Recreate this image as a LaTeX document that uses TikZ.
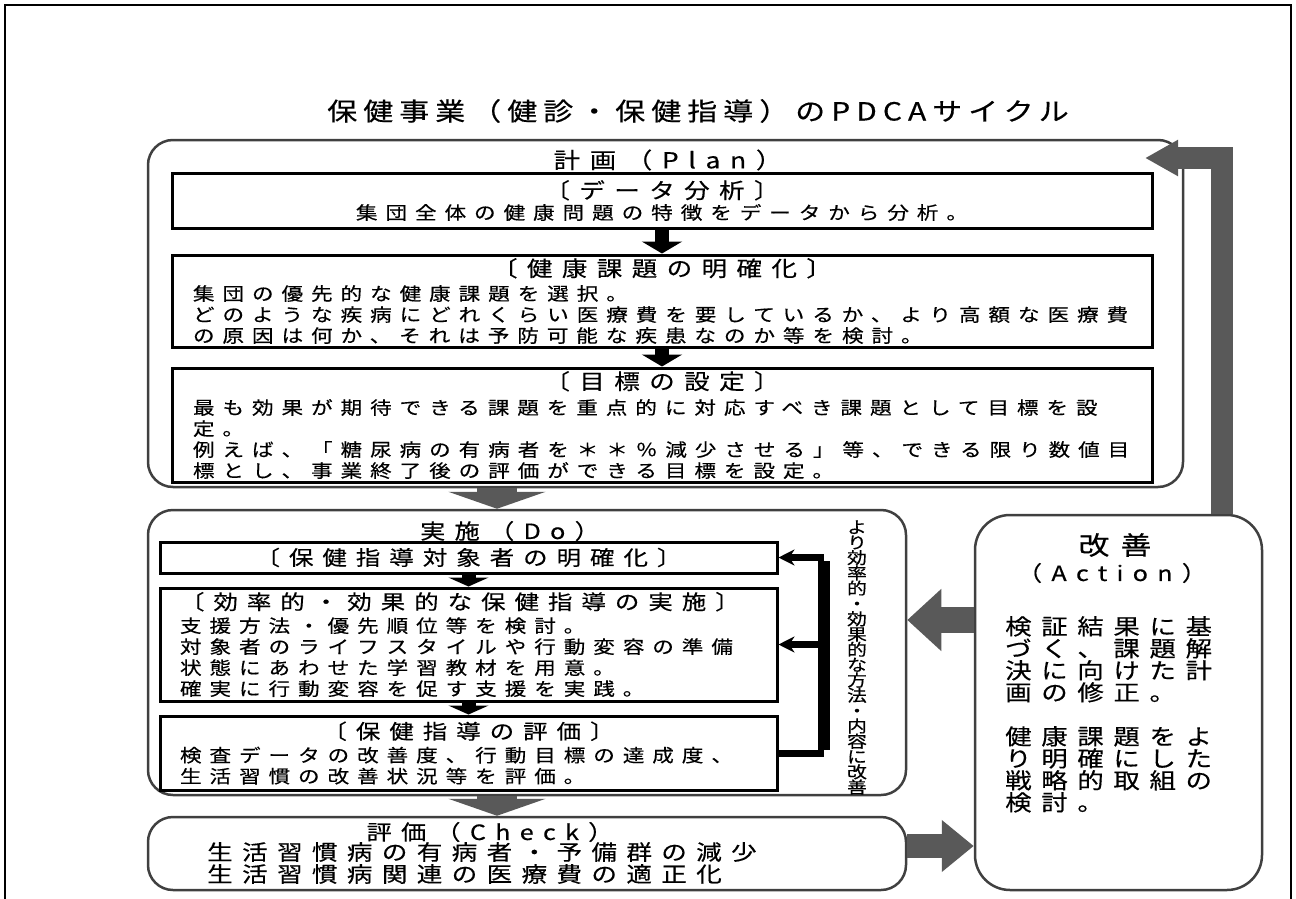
\documentclass[tikz,border=0pt]{standalone}
\usepackage{fontspec}
\setmainfont{Noto Sans CJK JP}[FakeStretch=1.2,LetterSpace=44,FakeBold=0.4]
\newfontfamily\pdcafont{Noto Sans CJK JP}[FakeStretch=1.2,LetterSpace=24,FakeBold=0.4]
\newfontfamily\tatefont{Noto Sans CJK JP}[FakeStretch=1.2,FakeBold=0.4]
\usetikzlibrary{arrows.meta}

\newcommand{\bodysz}{\fontsize{18}{21}\selectfont}
\newcommand{\ttlsz}{\fontsize{21.3}{21}\selectfont}
\newcommand{\subsz}{\fontsize{20.4}{21}\selectfont}

\begin{document}
\begin{tikzpicture}[
		x=1pt, y=-1pt,
		phase/.style ={
			rectangle,	rounded corners=25pt,	draw=black!75,
			line width=2.5pt,	inner sep=0pt
		},
		stepbox/.style ={
			rectangle,	draw=black,	line width=3pt,
			inner xsep=21pt,	inner ysep=0pt,	align=left,	font=\bodysz
		},
		heading/.style ={
			inner sep=0pt,	font=\fontsize{22}{24}\selectfont
		},
		down/.style ={
			draw=black,	line width=14pt,	-{Triangle[width=40pt,length=12pt]}
		},
		bigarrow/.style ={
			draw=black!65,	line width=40pt,	-{Triangle[width=97pt,length=17pt]}
		},
		sidearrow/.style ={
			draw=black!65,	line width=26pt,	-{Triangle[width=60pt,length=34pt]}
		},
		feedback/.style ={
			draw=black,	line width=7pt
		},
	]

	\useasboundingbox (0,0) rectangle (1296,899);
	\draw [line width=1.5pt] (5,899) -- (5,5) -- (1291,5) -- (1291,899);

	% nodes
	\node (title) at (698,111) [inner sep=0pt, font=\pdcafont\fontsize{25}{28}\selectfont]
		{保健事業（健診・保健指導）のPDCAサイクル};

	\node (plan) at (665.5,313.5) [phase, minimum width=1035pt, minimum height=347pt] {};
	\node (planttl) at (668,160) [heading] {計画（Plan）};
	\node (data) at (662,200.5) [stepbox, align=center, text width=938pt, minimum height=55pt]
		{{\ttlsz〔データ分析〕}\\集団全体の健康問題の特徴をデータから分析。};
	\node (issue) at (662,301) [stepbox, text width=938pt, minimum height=92pt]
		{{\ttlsz\hfill〔健康課題の明確化〕\hfill\null}\\[3pt]
		集団の優先的な健康課題を選択。\\
		どのような疾病にどれくらい医療費を要しているか、より高額な医療費\\
		の原因は何か、それは予防可能な疾患なのか等を検討。};
	\node (goal) at (662,425) [stepbox, text width=938pt, minimum height=114pt]
		{{\ttlsz\hfill〔目標の設定〕\hfill\null}\\[4pt]
		最も効果が期待できる課題を重点的に対応すべき課題として目標を設\\
		定。\\
		例えば、「糖尿病の有病者を＊＊％減少させる」等、できる限り数値目\\
		標とし、事業終了後の評価ができる目標を設定。};

	\node (do) at (527,652.5) [phase, minimum width=758pt, minimum height=285pt] {};
	\node (dottl) at (510,531) [heading, font=\fontsize{21}{24}\selectfont] {実施（Do）};
	\node (target) at (468.5,557.5) [stepbox, align=center, inner xsep=20pt, text width=577pt, minimum height=31pt]
		{{\subsz〔保健指導対象者の明確化〕}};
	\node (support) at (468.5,644.5) [stepbox, inner xsep=20pt, text width=577pt, minimum height=113pt]
		{{\subsz〔効率的・効果的な保健指導の実施〕}\\[2pt]
		支援方法・優先順位等を検討。\\
		対象者のライフスタイルや行動変容の準備\\
		状態にあわせた学習教材を用意。\\
		確実に行動変容を促す支援を実践。};
	\node (review) at (468.5,753) [stepbox, inner xsep=20pt, text width=577pt, minimum height=74pt]
		{{\subsz\hfill〔保健指導の評価〕\hfill\null}\\[2pt]
		検査データの改善度、行動目標の達成度、\\
		生活習慣の改善状況等を評価。};
	\node (kaizen) at (857,657.5) [inner sep=0pt, align=center, font=\tatefont\fontsize{16.5}{15.3}\selectfont]
		{よ\\り\\効\\率\\的\\・\\効\\果\\的\\な\\方\\法\\・\\内\\容\\に\\改\\善};

	\node (check) at (527,853.5) [phase, minimum width=758pt, minimum height=73pt] {};
	\node (checkttl) at (490,832) [heading, font=\fontsize{21}{24}\selectfont] {評価（Check）};
	\node (checktxt) at (207,863) [anchor=west, inner sep=0pt, align=left, font=\fontsize{21.3}{22}\selectfont]
		{生活習慣病の有病者・予備群の減少\\生活習慣病関連の医療費の適正化};

	\node (act) at (1118.5,702.5) [phase, rounded corners=35pt, minimum width=287pt, minimum height=375pt] {};
	\node (actttl) at (1115,545) [heading, font=\fontsize{25.6}{26}\selectfont] {改善};
	\node (actsub) at (1112,573) [heading, font=\fontsize{21}{24}\selectfont] {（Action）};
	\node (acttxt) at (1005,616) [anchor=north west, inner sep=0pt, align=left, font=\fontsize{22}{22}\selectfont]
		{検証結果に基\\づく、課題解\\決に向けた計\\画の修正。\\[22pt]
		健康課題をよ\\り明確にした\\戦略的取組の\\検討。};

	\coordinate (dcol) at (497,0);
	\coordinate (bar)  at (824,0);
	\coordinate (arow) at (0,620);
	\coordinate (crow) at (0,846);
	\coordinate (vcol) at (1222,0);
	\coordinate (ret)  at (1145,158);

	% interconnections
	\draw [down] (data) -- (issue);
	\draw [down] (issue) -- (goal);
	\draw [down, -{Triangle[width=40pt,length=9pt]}] (target) -- (support);
	\draw [down, -{Triangle[width=40pt,length=9pt]}] (support) -- (review);

	\draw [feedback] (review.east) -- (review.east -| bar);
	\draw [line width=12pt] ([yshift=-3.5pt]target.east -| bar) -- ([yshift=3.5pt]review.east -| bar);
	\draw [feedback, -{Stealth[width=16pt,length=16pt]}] (target.east -| bar) -- (target.east);
	\draw [feedback, -{Stealth[width=16pt,length=16pt]}] (support.east -| bar) -- (support.east);

	\draw [bigarrow] (plan.south -| dcol) -- (do.north -| dcol);
	\draw [bigarrow] (do.south -| dcol) -- (check.north -| dcol);
	\draw [sidearrow] (act.west |- arow) -- (do.east |- arow);
	\draw [sidearrow, line width=24pt, -{Triangle[width=50pt,length=32pt]}] (check.east |- crow) -- (act.west |- crow);
	\draw [draw=black!65, line width=22pt, -{Triangle[width=34pt,length=33pt]}] (act.north -| vcol) |- (ret);

\end{tikzpicture}
\end{document}
